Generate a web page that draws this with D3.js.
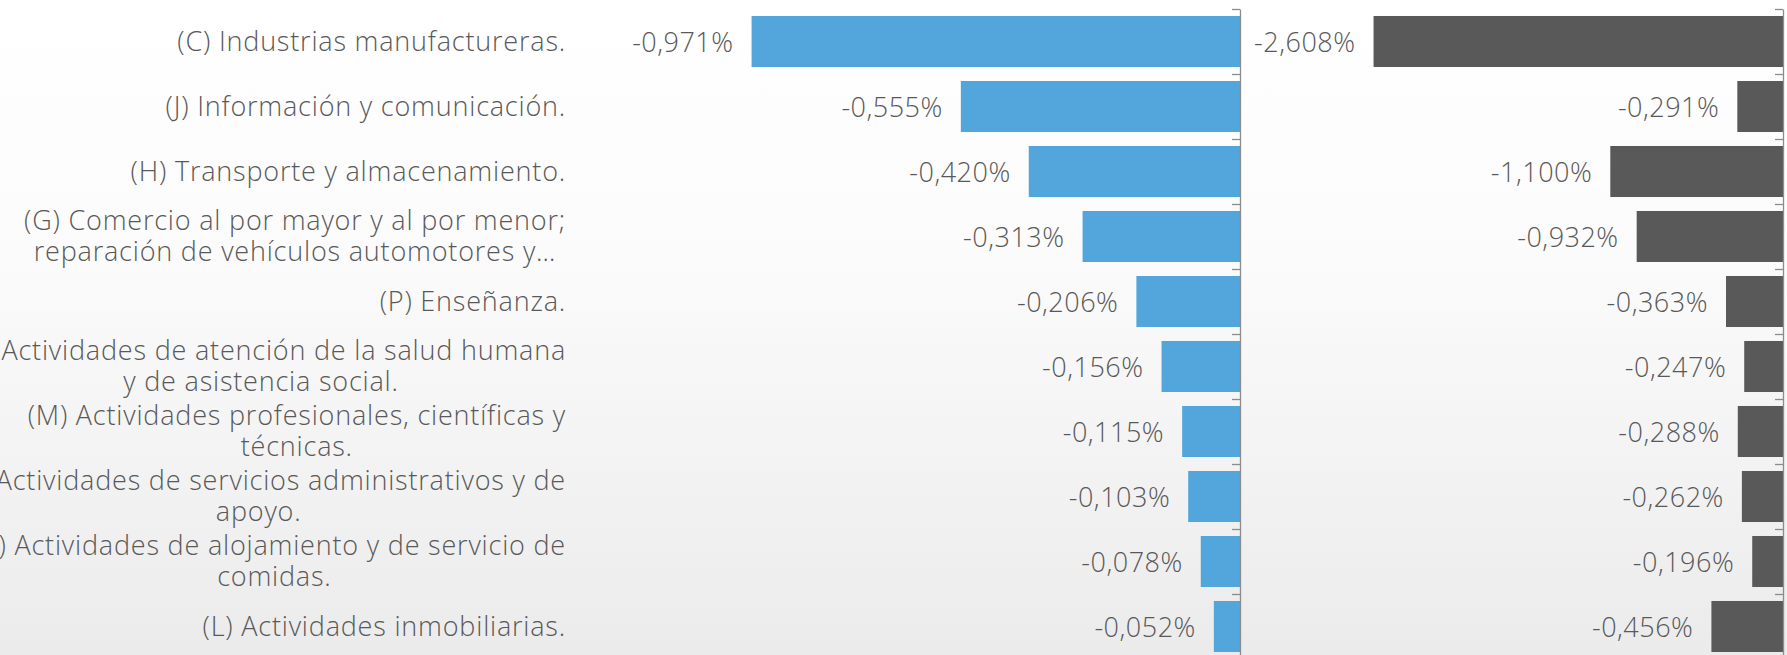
<!DOCTYPE html>
<html>
<head>
<meta charset="utf-8">
<script src="https://cdn.jsdelivr.net/npm/d3@7"></script>
<style>
  body { margin: 0; background: #fff; }
  svg text { font-family: 'Open Sans', sans-serif; fill: #595959; font-weight: 300; }
</style>
</head>
<body>
<script>
// categories, top to bottom
const categories = [
  '(C) Industrias manufactureras.',
  '(J) Información y comunicación.',
  '(H) Transporte y almacenamiento.',
  '(G) Comercio al por mayor y al por menor;\nreparación de vehículos automotores y…',
  '(P) Enseñanza.',
  '(Q) Actividades de atención de la salud humana\ny de asistencia social.',
  '(M) Actividades profesionales, científicas y\ntécnicas.',
  '(N) Actividades de servicios administrativos y de\napoyo.',
  '(I) Actividades de alojamiento y de servicio de\ncomidas.',
  '(L) Actividades inmobiliarias.'
];
const leftValues = [-0.971, -0.555, -0.420, -0.313, -0.206, -0.156, -0.115, -0.103, -0.078, -0.052];
const rightValues = [-2.608, -0.291, -1.100, -0.932, -0.363, -0.247, -0.288, -0.262, -0.196, -0.456];

let width = 1787, height = 655;
let svg = d3.select('body').append('svg').attr('width', width).attr('height', height);

// background
let defs = svg.append('defs');
let bg = defs.append('linearGradient').attr('id', 'bg').attr('x1', 0).attr('y1', 0).attr('x2', 0).attr('y2', 1);
bg.append('stop').attr('offset', '0%').attr('stop-color', '#ffffff');
bg.append('stop').attr('offset', '40%').attr('stop-color', '#fbfbfb');
bg.append('stop').attr('offset', '100%').attr('stop-color', '#ebebec');
svg.append('rect').attr('width', width).attr('height', height).attr('fill', 'url(#bg)');

let es = d3.formatLocale({decimal: ',', thousands: '.', grouping: [3], currency: ['', '€'], minus: '-'});
let fmt = es.format('.3f');

let y = d3.scaleBand()
  .domain(d3.range(categories.length))
  .range([9, 659])
  .paddingInner(0.215)
  .paddingOuter(0.1075);

// boundary scale for the tick marks between categories
let yEdge = d3.scaleLinear().domain([0, categories.length]).range([9, 659]);

function panel(values, x, color) {
  let g = svg.append('g');

  g.selectAll('rect')
    .data(values)
    .enter().append('rect')
    .attr('x', d => x(d))
    .attr('y', (d, i) => y(i))
    .attr('width', d => x(0) - x(d))
    .attr('height', y.bandwidth())
    .attr('fill', color);

  g.selectAll('text.val')
    .data(values)
    .enter().append('text')
    .attr('class', 'val')
    .attr('x', d => x(d) - 18)
    .attr('y', (d, i) => y(i) + y.bandwidth() / 2 + 1)
    .attr('dy', '0.35em')
    .attr('text-anchor', 'end')
    .style('font-size', '27px')
    .style('letter-spacing', '0.5px')
    .text(d => fmt(d) + '%');

  let axis = d3.axisLeft(yEdge)
    .tickValues(d3.range(categories.length + 1))
    .tickFormat('')
    .tickSize(8)
    .tickSizeOuter(0);

  let ax = g.append('g')
    .attr('transform', 'translate(' + x(0) + ',0)')
    .call(axis);
  ax.selectAll('line').attr('stroke', '#8c8c8c').attr('stroke-width', 1.3);
  ax.select('.domain').attr('stroke', '#8c8c8c').attr('stroke-width', 1.3);
}

let xLeft = d3.scaleLinear().domain([-1, 0]).range([1240 - 503, 1240]);
let xRight = d3.scaleLinear().domain([-3, 0]).range([1783 - 3 * 157, 1783]);

panel(leftValues, xLeft, '#53a6db');
panel(rightValues, xRight, '#595959');

// category labels
let labelRight = 566, lineGap = 31;
let labels = svg.append('g').style('font-size', '27px').style('letter-spacing', '0.8px');
categories.forEach(function(c, i) {
  let lines = c.split('\n');
  let cy = y(i) + y.bandwidth() / 2;
  let t = labels.append('text');
  lines.forEach(function(l, k) {
    t.append('tspan')
      .attr('y', cy + (k - (lines.length - 1) / 2) * lineGap)
      .attr('dy', '0.35em')
      .text(l);
  });
  if (lines.length === 1) {
    t.attr('text-anchor', 'end').selectAll('tspan').attr('x', labelRight);
  } else {
    let w = d3.max(t.selectAll('tspan').nodes(), n => n.getComputedTextLength());
    t.attr('text-anchor', 'middle').selectAll('tspan').attr('x', labelRight - w / 2);
  }
});
</script>
</body>
</html>
